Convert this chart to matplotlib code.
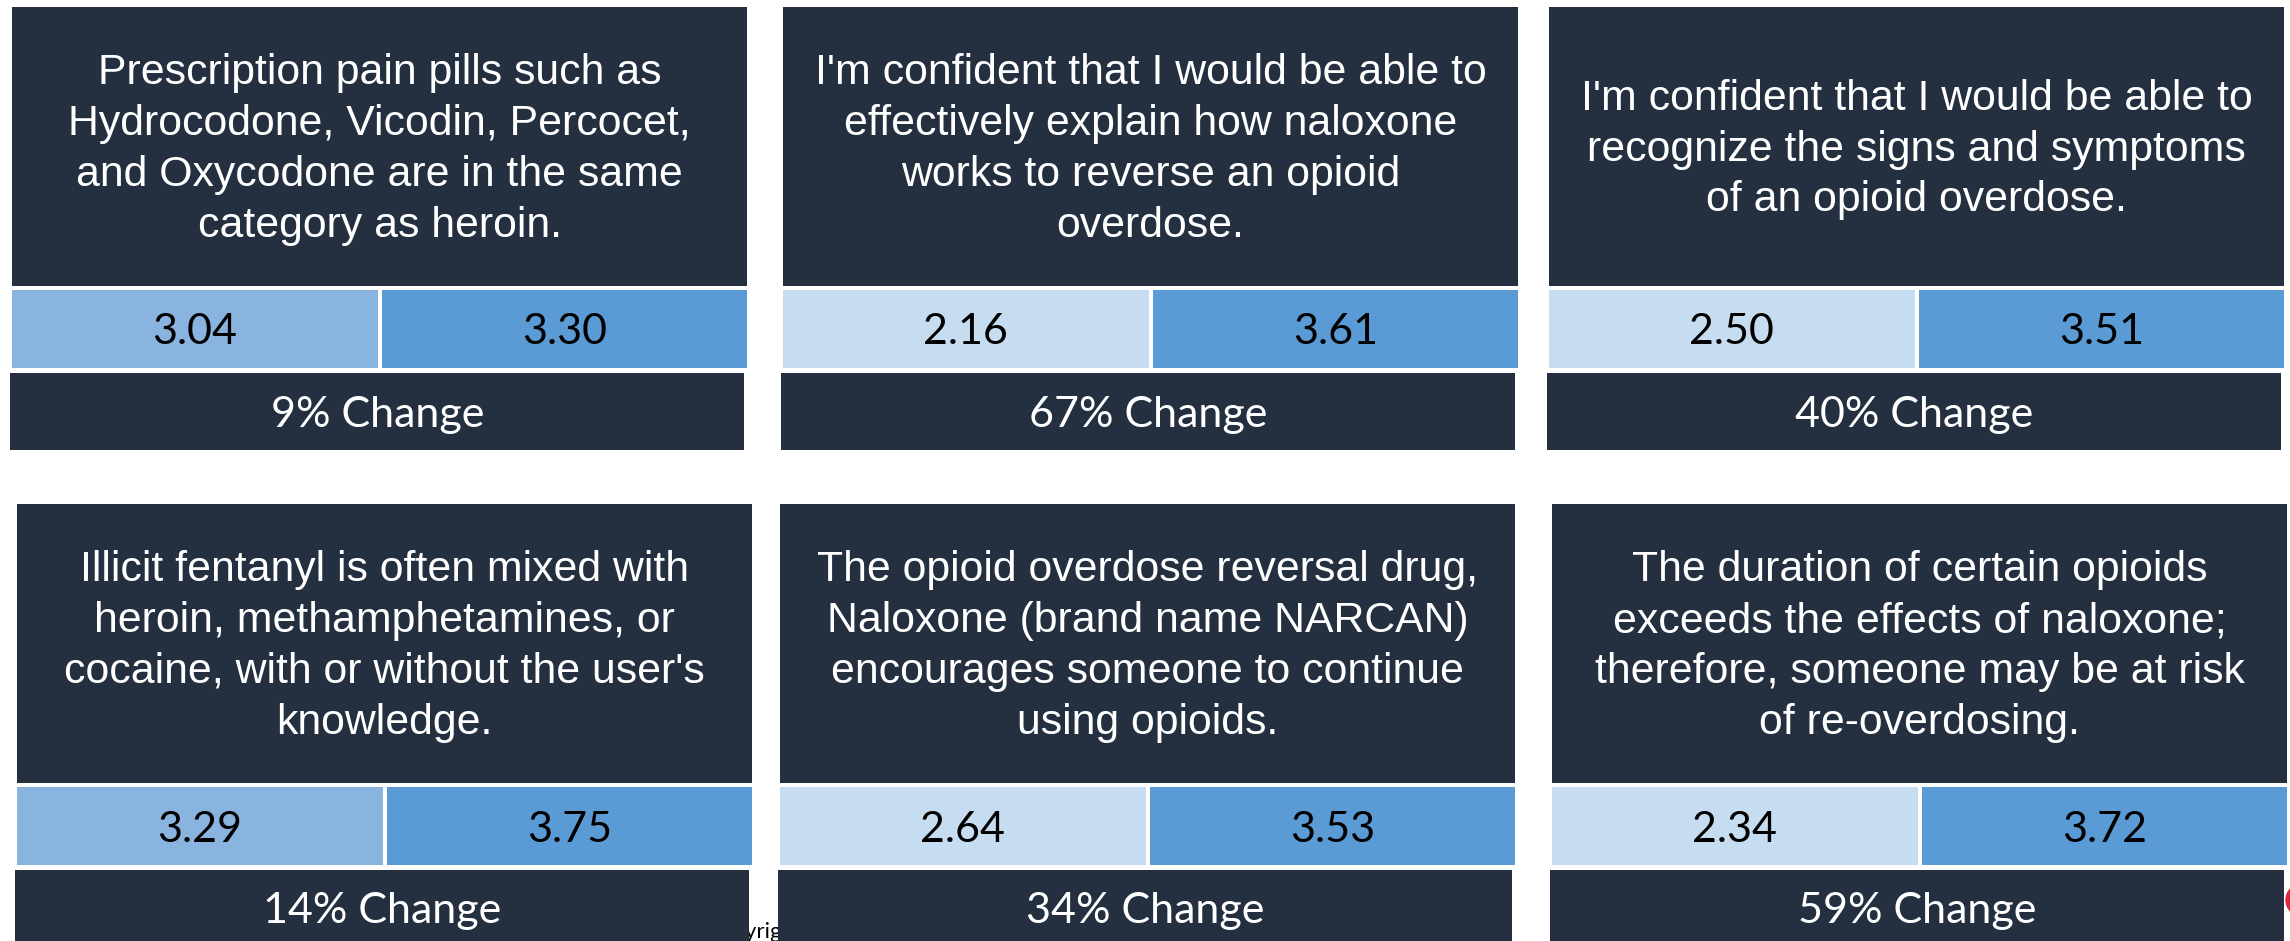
import matplotlib
matplotlib.use("Agg")
import matplotlib.pyplot as plt
from matplotlib.patches import Rectangle, Circle

# ---------------- data ----------------
statements = [
    "Prescription pain pills such as\nHydrocodone, Vicodin, Percocet,\nand Oxycodone are in the same\ncategory as heroin.",
    "I'm confident that I would be able to\neffectively explain how naloxone\nworks to reverse an opioid\noverdose.",
    "I'm confident that I would be able to\nrecognize the signs and symptoms\nof an opioid overdose.",
    "Illicit fentanyl is often mixed with\nheroin, methamphetamines, or\ncocaine, with or without the user's\nknowledge.",
    "The opioid overdose reversal drug,\nNaloxone (brand name NARCAN)\nencourages someone to continue\nusing opioids.",
    "The duration of certain opioids\nexceeds the effects of naloxone;\ntherefore, someone may be at risk\nof re-overdosing.",
]
pre_scores = [3.04, 2.16, 2.50, 3.29, 2.64, 2.34]
post_scores = [3.30, 3.61, 3.51, 3.75, 3.53, 3.72]
pct_change = [9, 67, 40, 14, 34, 59]

# ---------------- style ----------------
NAVY = "#242F40"
PRE_COLORS = ["#8AB4E0", "#C6DCF0", "#C6DCF0", "#8AB4E0", "#C6DCF0", "#C6DCF0"]
POST_COLOR = "#5B9BD5"

W, H = 2290, 941
fig = plt.figure(figsize=(W / 100, H / 100), dpi=100)
ax = fig.add_axes([0, 0, 1, 1])
ax.set_xlim(0, W)
ax.set_ylim(H, 0)
ax.axis("off")

# layout (pixel positions)
col_left = [[12, 783, 1549], [17, 780, 1552]]
panel_w = 735
row_top = [7, 504]
text_h = 279
gap1 = 4
val_h = 78
gap2 = 5
chg_h = 77
split_gap = 4

q_font = dict(family=["Liberation Sans", "DejaVu Sans"], size=30.8, color="white")
n_font = dict(family=["Lato", "DejaVu Sans"], size=31)

# partially hidden copyright line behind boxes
ax.text(705, 938, "Copyright", fontsize=16, family=["Lato", "DejaVu Sans"],
        color="black", ha="left", va="baseline", zorder=0)
ax.add_patch(Circle((2302, 900), 16, color="#E0243C", zorder=0, clip_on=False))

for i in range(6):
    r, c = divmod(i, 3)
    x0 = col_left[r][c]
    y0 = row_top[r]
    # statement box
    ax.add_patch(Rectangle((x0, y0), panel_w, text_h, color=NAVY, lw=0, zorder=1))
    ax.text(x0 + panel_w / 2, y0 + text_h / 2 + 3, statements[i], ha="center",
            va="center", multialignment="center", linespacing=1.35, zorder=2, **q_font)
    # score cells
    vy = y0 + text_h + gap1
    half = (panel_w - split_gap) / 2
    ax.add_patch(Rectangle((x0, vy), half, val_h, color=PRE_COLORS[i], lw=0, zorder=1))
    ax.add_patch(Rectangle((x0 + half + split_gap, vy), half, val_h, color=POST_COLOR,
                           lw=0, zorder=1))
    ax.text(x0 + half / 2, vy + val_h / 2, f"{pre_scores[i]:.2f}", ha="center",
            va="center_baseline", color="black", zorder=2, **n_font)
    ax.text(x0 + half * 1.5 + split_gap, vy + val_h / 2, f"{post_scores[i]:.2f}",
            ha="center", va="center_baseline", color="black", zorder=2, **n_font)
    # change box
    cy = vy + val_h + gap2
    ax.add_patch(Rectangle((x0 - 2, cy), panel_w - 1, chg_h + (10 if r == 1 else 0),
                           color=NAVY, lw=0, zorder=1))
    ax.text(x0 - 2 + panel_w / 2, cy + 38, f"{pct_change[i]}% Change", ha="center",
            va="center_baseline", color="white", zorder=2, **n_font)

fig.savefig("out.png", dpi=100, facecolor="white")
